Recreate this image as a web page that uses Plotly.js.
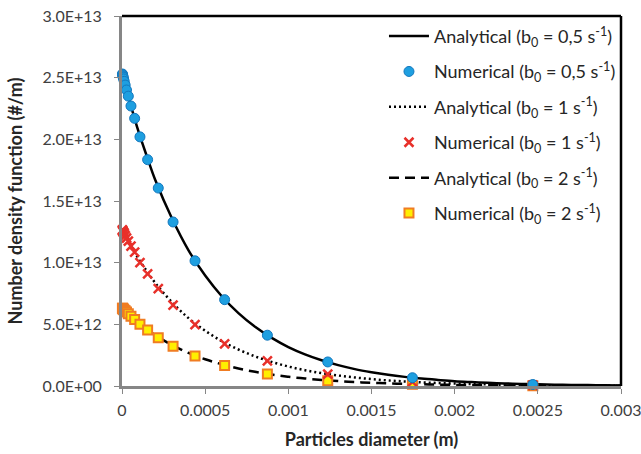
<!DOCTYPE html>
<html>
<head>
<meta charset="utf-8">
<script src="https://cdn.plot.ly/plotly-3.0.1.min.js"></script>
<style>html,body{margin:0;padding:0;background:#fff;}#chart{width:641px;height:454px;}</style>
</head>
<body>
<div id="chart"></div>
<script>
// Analytical curves
const xAnalytical = [0, 0.00005, 0.0001, 0.00015, 0.0002, 0.0003, 0.0004, 0.0005, 0.0006, 0.0007, 0.0008, 0.0009, 0.001, 0.0011, 0.0012, 0.0013, 0.0014, 0.0015, 0.0016, 0.0017, 0.0018, 0.0019, 0.002, 0.0021, 0.0022, 0.0023, 0.0024, 0.0025, 0.0026, 0.0027, 0.0028, 0.0029, 0.003];
const anaB05 = [25.4e12, 22.9e12, 20.6e12, 18.6e12, 16.7e12, 13.6e12, 11.0e12, 8.96e12, 7.28e12, 5.91e12, 4.80e12, 3.90e12, 3.16e12, 2.57e12, 2.09e12, 1.69e12, 1.37e12, 1.12e12, 0.91e12, 0.74e12, 0.60e12, 0.49e12, 0.39e12, 0.32e12, 0.26e12, 0.21e12, 0.17e12, 0.14e12, 0.11e12, 0.09e12, 0.074e12, 0.06e12, 0.05e12];
const anaB1 = [12.7e12, 11.45e12, 10.3e12, 9.3e12, 8.35e12, 6.8e12, 5.5e12, 4.48e12, 3.64e12, 2.96e12, 2.40e12, 1.95e12, 1.58e12, 1.28e12, 1.04e12, 0.85e12, 0.69e12, 0.56e12, 0.45e12, 0.37e12, 0.30e12, 0.24e12, 0.20e12, 0.16e12, 0.13e12, 0.10e12, 0.085e12, 0.07e12, 0.055e12, 0.045e12, 0.037e12, 0.03e12, 0.025e12];
const anaB2 = [6.35e12, 5.7e12, 5.1e12, 4.6e12, 4.12e12, 3.33e12, 2.68e12, 2.17e12, 1.76e12, 1.42e12, 1.15e12, 0.93e12, 0.75e12, 0.61e12, 0.49e12, 0.40e12, 0.32e12, 0.26e12, 0.21e12, 0.17e12, 0.14e12, 0.11e12, 0.09e12, 0.07e12, 0.06e12, 0.05e12, 0.04e12, 0.03e12, 0.025e12, 0.02e12, 0.016e12, 0.013e12, 0.01e12];

// Numerical points
const xNumerical = [0.0000024, 0.0000034, 0.0000048, 0.0000067, 0.0000095, 0.0000135, 0.000019, 0.000027, 0.000038, 0.000054, 0.000076, 0.000108, 0.000154, 0.000218, 0.000307, 0.000439, 0.000617, 0.000874, 0.001237, 0.001746, 0.00247];
const numB05 = [25.3e12, 25.25e12, 25.15e12, 25.05e12, 24.9e12, 24.7e12, 24.4e12, 24.0e12, 23.5e12, 22.7e12, 21.7e12, 20.2e12, 18.35e12, 16.05e12, 13.3e12, 10.15e12, 7.0e12, 4.12e12, 1.95e12, 0.67e12, 0.12e12];
const numB1 = [12.65e12, 12.6e12, 12.55e12, 12.5e12, 12.45e12, 12.35e12, 12.2e12, 12.0e12, 11.75e12, 11.35e12, 10.85e12, 10.0e12, 9.1e12, 7.9e12, 6.55e12, 4.98e12, 3.42e12, 2.04e12, 0.97e12, 0.33e12, 0.07e12];
const numB2 = [6.3e12, 6.3e12, 6.27e12, 6.25e12, 6.2e12, 6.15e12, 6.1e12, 6.0e12, 5.85e12, 5.65e12, 5.4e12, 5.0e12, 4.55e12, 3.92e12, 3.22e12, 2.44e12, 1.66e12, 0.98e12, 0.43e12, 0.15e12, 0.03e12];

const seriesNames = [
  'Analytical (b<sub>0</sub> = 0,5 s<sup>-1</sup>)',
  'Numerical (b<sub>0</sub> = 0,5 s<sup>-1</sup>)',
  'Analytical (b<sub>0</sub> = 1 s<sup>-1</sup>)',
  'Numerical (b<sub>0</sub> = 1 s<sup>-1</sup>)',
  'Analytical (b<sub>0</sub> = 2 s<sup>-1</sup>)',
  'Numerical (b<sub>0</sub> = 2 s<sup>-1</sup>)'
];

const yTickVals = [0, 5e12, 10e12, 15e12, 20e12, 25e12, 30e12];
const yTickText = ['0.0E+00', '5.0E+12', '1.0E+13', '1.5E+13', '2.0E+13', '2.5E+13', '3.0E+13'];
const xTickVals = [0, 0.0005, 0.001, 0.0015, 0.002, 0.0025, 0.003];
const xTickText = ['0', '0.0005', '0.001', '0.0015', '0.002', '0.0025', '0.003'];

const FONT = 'Lato, "Open Sans", sans-serif';

const traces = [
  {x: xAnalytical, y: anaB2, name: seriesNames[4], mode: 'lines', legendrank: 5, legendgroup: 'g5',
   line: {color: '#000', width: 2.5, dash: '10px,6px', shape: 'spline'}},
  {x: xAnalytical, y: anaB1, name: seriesNames[2], mode: 'lines', legendrank: 3, legendgroup: 'g3',
   line: {color: '#000', width: 2.5, dash: '2px,3px', shape: 'spline'}},
  {x: xAnalytical, y: anaB05, name: seriesNames[0], mode: 'lines', legendrank: 1, legendgroup: 'g1',
   line: {color: '#000', width: 2.5, shape: 'spline'}},
  {x: xNumerical, y: numB2, name: seriesNames[5], mode: 'markers', legendrank: 6, legendgroup: 'g6', cliponaxis: false,
   marker: {symbol: 'square', size: 9, color: '#FFEF00', line: {color: '#F07C22', width: 2}}},
  {x: xNumerical, y: numB1, name: seriesNames[3], mode: 'markers', legendrank: 4, legendgroup: 'g4', cliponaxis: false,
   marker: {symbol: 'x-thin', size: 9, color: '#E8302A', line: {color: '#E8302A', width: 2.5}}},
  {x: xNumerical, y: numB05, name: seriesNames[1], mode: 'markers', legendrank: 2, legendgroup: 'g2', cliponaxis: false,
   marker: {symbol: 'circle', size: 10, color: '#1E9FE0', line: {color: '#1277BE', width: 1}}}
];

const layout = {
  width: 641, height: 454,
  margin: {l: 122, r: 20, t: 16, b: 68},
  paper_bgcolor: '#fff', plot_bgcolor: '#fff',
  font: {family: FONT, size: 16, color: '#404040'},
  showlegend: true,
  legend: {x: 0.525, y: 0.995, xanchor: 'left', yanchor: 'top', bgcolor: 'rgba(0,0,0,0)', itemwidth: 40,
           traceorder: 'grouped', tracegroupgap: 9, font: {family: FONT, size: 18, color: '#262626'}},
  xaxis: {range: [0, 0.0030000001], tickvals: xTickVals, ticktext: xTickText, showgrid: false, zeroline: false,
          showline: true, linecolor: '#868686', linewidth: 3, ticks: 'outside', ticklen: 5, tickcolor: '#868686', tickwidth: 1,
          ticklabeloverflow: 'allow', ticklabelstandoff: 3,
          tickfont: {family: FONT, size: 16, color: '#404040'},
          title: {text: '<b>Particles diameter (m)</b>', font: {family: FONT, size: 18, color: '#262626'}, standoff: 16}},
  yaxis: {range: [0, 3e13], tickvals: yTickVals, ticktext: yTickText, showgrid: false, zeroline: false,
          showline: true, linecolor: '#868686', linewidth: 3, ticks: 'outside', ticklen: 5, tickcolor: '#868686', tickwidth: 1,
          ticklabelstandoff: 9,
          tickfont: {family: FONT, size: 16, color: '#404040'},
          title: {text: '<b>Number density function (#/m)</b>', font: {family: FONT, size: 18, color: '#262626'}, standoff: 16}},
  shapes: [
    {type: 'line', xref: 'paper', yref: 'paper', x0: 0, x1: 1, y0: 1, y1: 1, line: {color: '#000', width: 2.5}},
    {type: 'line', xref: 'paper', yref: 'paper', x0: 1, x1: 1, y0: 0, y1: 1, line: {color: '#000', width: 2.5}}
  ]
};

Plotly.newPlot('chart', traces, layout, {staticPlot: true, displayModeBar: false});
</script>
</body>
</html>
